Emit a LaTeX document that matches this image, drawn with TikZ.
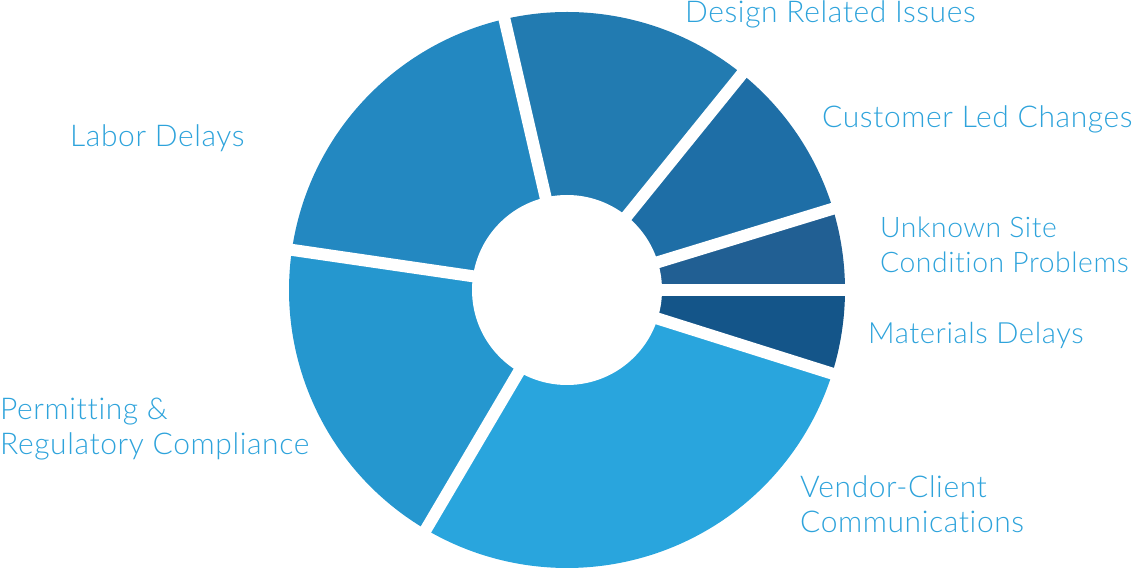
\documentclass[tikz,border=0pt]{standalone}
\usepackage{fontspec}
\setmainfont{Lato Light}[Ligatures=NoCommon, LetterSpace=2]
\usepackage{tikz}
\usetikzlibrary{positioning}
\definecolor{unknowncol}{HTML}{215F93}
\definecolor{customercol}{HTML}{1E6EA6}
\definecolor{designcol}{HTML}{227BB1}
\definecolor{laborcol}{HTML}{2388C1}
\definecolor{permitcol}{HTML}{2597CF}
\definecolor{vendorcol}{HTML}{29A5DD}
\definecolor{materialcol}{HTML}{145589}
\definecolor{labelcol}{HTML}{2EA3DB}
\tikzset{
  lbl/.style={anchor=base west, inner sep=0pt, text=labelcol, align=left,
    font=\fontsize{30}{35}\selectfont},
  gap/.style={draw=white, line width=12pt}
}

\begin{document}
\begin{tikzpicture}[x=1pt,y=1pt]
\useasboundingbox (0,0) rectangle (1140,570);
\coordinate (c) at (567,280);

% sectors
\fill[unknowncol] (c) -- ++(0:278) arc (0:17:278) -- cycle;
\fill[customercol] (c) -- ++(17:278) arc (17:51:278) -- cycle;
\fill[designcol] (c) -- ++(51:278) arc (51:103:278) -- cycle;
\fill[laborcol] (c) -- ++(103:278) arc (103:171.7:278) -- cycle;
\fill[permitcol] (c) -- ++(171.7:278) arc (171.7:239.5:278) -- cycle;
\fill[vendorcol] (c) -- ++(239.5:278) arc (239.5:342.5:278) -- cycle;
\fill[materialcol] (c) -- ++(342.5:278) arc (342.5:360:278) -- cycle;

% gaps and hole
\draw[gap] (c) -- ++(0:285);
\draw[gap] (c) -- ++(17:285);
\draw[gap] (c) -- ++(51:285);
\draw[gap] (c) -- ++(103:285);
\draw[gap] (c) -- ++(171.7:285);
\draw[gap] (c) -- ++(239.5:285);
\draw[gap] (c) -- ++(342.5:285);
\fill[white] (c) circle (95);

% labels (two-line labels sit on their last baseline)
\node[lbl] (design) at (685,547.5) {Design Related Issues};
\node[lbl] (customer) at (822,442) {Customer Led Changes};
\node[lbl, font=\fontsize{28.3}{35}\selectfont] (unknown) at (880,297) {Unknown Site\\Condition Problems};
\node[lbl, font=\fontsize{29.2}{35}\selectfont] (materials) at (868,226) {Materials Delays};
\node[lbl] (labor) at (70,423) {Labor Delays};
\node[lbl] (permitting) at (0,115) {Permitting \&\\Regulatory Compliance};
\node[lbl] (vendor) at (800,37) {Vendor-Client\\Communications};
\end{tikzpicture}
\end{document}
